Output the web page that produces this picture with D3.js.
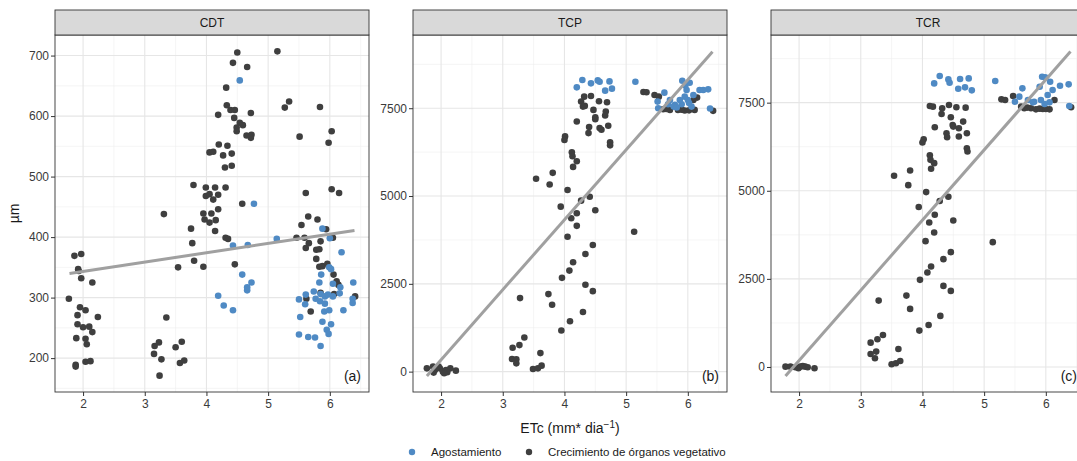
<!DOCTYPE html>
<html>
<head>
<meta charset="utf-8">
<script src="https://cdn.jsdelivr.net/npm/d3@7"></script>
<style>
  body { margin: 0; background: #fff; }
  text { font-family: "Liberation Sans", Arial, sans-serif; }
</style>
</head>
<body>
<script>
// facet scatter: CDT / TCP / TCR against ETc, with linear fit

var seriesNames = ["Agostamiento", "Crecimiento de órganos vegetativo"];
var panelNames = ["CDT", "TCP", "TCR"];
var panelTags = ["(a)", "(b)", "(c)"];
var xTicks = [2, 3, 4, 5, 6];
var cdtTicks = [200, 300, 400, 500, 600, 700];
var tcTicks = [0, 2500, 5000, 7500];

// [ETc, value] pairs
var cdtAgostamiento = [[4.54,659],[4.77,455],[4.19,303],[4.28,287],[4.43,279],[4.58,338],[4.66,317],[4.73,325],[4.66,312],[4.43,386],[4.67,387],[5.14,397],
  [5.88,414],[6.00,398],[6.19,375],[5.99,350],[6.02,347],[5.86,338],[6.05,323],[5.83,325],[6.17,317],[5.74,310],[5.85,306],[5.92,302],[5.97,305],[6.05,302],[6.16,307],
  [5.50,297],[5.61,305],[5.60,289],[5.77,298],[5.84,294],[5.92,290],[5.91,277],[5.99,279],[6.22,279],[6.37,298],[6.38,325],[6.37,291],[5.52,268],[5.88,260],[6.02,256],
  [5.95,247],[5.98,240],[5.50,239],[5.65,235],[5.76,234],[5.85,220]];
var cdtCrecimiento = [[4.50,705],[4.43,688],[4.66,681],[4.32,647],[5.15,707],[5.27,614],[5.34,624],[5.84,615],[4.33,618],[4.39,610],[4.46,610],[4.19,602],[4.45,597],[4.72,605],
  [4.54,589],[4.59,585],[4.49,581],[4.49,575],[4.65,568],[4.73,569],[4.72,564],[5.51,566],[6.03,575],[5.98,556],[4.20,553],[4.34,551],[4.05,540],[4.11,541],[4.27,535],
  [4.41,538],[4.30,515],[4.41,518],[3.79,486],[3.99,482],[4.14,482],[4.31,482],[3.99,468],[4.05,471],[4.19,470],[4.11,462],[5.61,473],[6.03,479],[6.15,473],[4.58,455],
  [4.19,446],[3.31,438],[3.95,439],[4.08,439],[3.97,429],[4.05,424],[4.15,428],[4.14,410],[3.75,414],[3.77,390],[4.31,399],[4.35,397],[3.80,361],[3.95,351],[3.54,350],
  [4.46,355],[5.65,434],[5.54,420],[5.80,429],[5.46,399],[5.59,399],[5.61,382],[5.66,390],[5.78,379],[5.83,380],[5.85,393],[5.94,413],[6.05,399],[5.78,364],[5.83,351],
  [5.88,352],[5.96,356],[6.06,338],[6.11,327],[6.14,321],[6.07,306],[5.62,298],[5.69,277],[5.85,308],[6.41,302],
  [1.86,369],[1.97,372],[1.92,347],[1.93,344],[1.97,332],[2.15,325],[1.77,298],[1.95,284],[2.04,279],[1.91,271],[1.91,256],[2.00,251],[2.10,252],[2.15,243],[2.24,268],
  [1.89,233],[2.04,232],[2.06,223],[1.88,189],[1.88,186],[2.04,194],[2.12,195],
  [3.35,267],[3.23,226],[3.16,220],[3.15,207],[3.27,198],[3.24,171],[3.50,218],[3.60,227],[3.57,192],[3.64,196]];

var tcpAgostamiento = [[4.20,8094],[4.29,8302],[4.43,8208],[4.54,8292],[4.57,8255],[4.73,8264],[4.66,8000],[4.77,8057],[5.15,8255],[5.91,8283],[6.03,8226],[6.19,8019],
  [6.33,8038],[6.36,7491],[5.62,7943],[5.51,7689],[5.52,7500],[5.68,7613],[5.79,7594],[5.90,7613],[5.98,8019],[6.00,7736],[6.06,7547],[5.87,7736],[5.95,7830],[6.09,7877],
  [6.25,8019],[5.71,7736],[5.77,7547],[5.96,8150],[6.02,7650],[5.82,7520]];
var tcpCrecimiento = [[3.54,5491],[3.81,5660],[3.76,5330],[4.05,5170],[4.27,4868],[4.41,4981],[4.01,6698],[4.00,6594],[4.12,6245],[4.13,6132],[4.20,5991],[4.14,5830],
  [4.20,7123],[4.27,7689],[4.30,7547],[4.33,7566],[4.32,7830],[4.43,7849],[4.56,7698],[4.69,7670],[4.47,7453],[4.50,7245],[4.50,7189],[4.67,7406],[4.66,7292],[4.40,6962],
  [4.39,6792],[4.57,6934],[4.60,6887],[4.71,7000],[4.74,6528],[4.74,6443],
  [5.28,7962],[5.33,7953],[5.46,7877],[5.53,7830],[5.60,7472],[5.71,7453],[5.84,7453],[5.95,7434],[6.11,7453],[6.15,7802],[6.41,7425],[6.09,7736],[5.65,7480],[5.90,7460],[6.02,7440],
  [3.94,4698],[4.50,4594],[4.11,4368],[4.20,4509],[4.20,4151],[4.05,3840],[5.13,3981],[4.46,3604],[4.34,3349],[4.14,3113],[4.08,2877],[3.96,2670],[4.34,2472],[4.46,2292],
  [3.28,2094],[3.74,2208],[3.80,1906],[4.30,1698],[4.09,1434],[3.95,1170],[3.35,972],[3.16,679],[3.27,755],[3.15,358],[3.22,349],[3.22,236],[3.61,528],[3.49,75],[3.57,94],[3.63,170],
  [1.77,94],[1.87,142],[1.90,47],[1.98,94],[2.03,0],[2.08,47],[2.15,94],[2.24,28],[1.96,142],[2.10,-19],[1.88,-28],[2.05,-47]];

var tcrAgostamiento = [[4.19,8047],[4.28,8255],[4.42,8160],[4.44,8066],[4.61,8170],[4.75,8189],[4.58,7896],[4.69,7934],[4.80,7849],[5.18,8113],[5.94,8236],[5.99,8217],
  [6.07,8094],[6.23,7981],[6.37,8019],[6.38,7406],[5.62,7906],[5.50,7528],[5.57,7670],[5.71,7575],[5.81,7528],[5.92,7575],[6.03,7717],[6.11,7858],[5.90,7953],[5.79,7509],
  [6.06,7509],[5.98,7462]];
var tcrCrecimiento = [[3.54,5425],[3.80,5575],[3.77,5160],[4.06,4962],[3.94,4538],[4.28,4708],[4.42,4830],[4.02,6462],[4.00,6368],[4.12,6009],[4.13,5877],[4.19,5783],
  [4.14,5623],[4.20,6802],[4.12,7406],[4.17,7387],[4.32,7340],[4.31,7179],[4.43,7434],[4.55,7368],[4.70,7358],[4.46,7085],[4.49,6868],[4.50,6821],[4.66,6962],[4.59,6774],
  [4.39,6632],[4.40,6519],[4.59,6538],[4.72,6632],[4.72,6208],[4.73,6113],
  [5.28,7594],[5.34,7575],[5.47,7689],[5.60,7387],[5.65,7340],[5.76,7340],[5.84,7311],[5.95,7321],[6.06,7311],[6.14,7575],[6.41,7368],[5.70,7360],[5.90,7330],[6.00,7320],
  [4.20,4318],[4.11,4100],[4.50,4157],[4.19,3816],[4.05,3570],[5.14,3542],[4.46,3258],[4.34,3059],[4.14,2850],[4.08,2680],[3.96,2472],[4.34,2301],[4.46,2159],[3.29,1884],
  [3.74,2026],[3.80,1648],[4.29,1449],[4.10,1193],[3.95,1032],[3.36,909],[3.16,691],[3.27,786],[3.16,369],[3.25,436],[3.23,246],[3.61,511],[3.50,76],[3.57,104],[3.64,170],
  [1.78,9],[1.86,9],[1.94,-9],[2.02,9],[2.10,9],[2.14,-9],[2.25,-38],[1.99,-38],[2.06,28]];

// linear fit end points
var cdtFit = [[1.78,340],[6.40,411]];
var tcpFit = [[1.77,-122],[6.40,9108]];
var tcrFit = [[1.78,-256],[6.40,8949]];

var colors = d3.scaleOrdinal().domain(seriesNames).range(["#4f8ac4", "#3f3f3f"]);

// layout
var width = 1077, height = 461;
var panelW = 314, panelTop = 35, panelBottom = 392, stripH = 25;
var panelLeft = [55, 413, 771];
var xDomain = [1.545, 6.635];
var yDomains = [[144, 734], [-580, 9585], [-710, 9420]];

var panels = panelNames.map(function(name, i) {
  return {
    name: name,
    tag: panelTags[i],
    left: panelLeft[i],
    yDomain: yDomains[i],
    yTicks: i === 0 ? cdtTicks : tcTicks,
    agost: [cdtAgostamiento, tcpAgostamiento, tcrAgostamiento][i],
    crec: [cdtCrecimiento, tcpCrecimiento, tcrCrecimiento][i],
    fit: [cdtFit, tcpFit, tcrFit][i]
  };
});

var svg = d3.select("body").append("svg")
  .attr("width", width)
  .attr("height", height);

function midpoints(ticks, domain) {
  var step = ticks[1] - ticks[0];
  var out = [];
  for (var v = ticks[0] - step / 2; v <= domain[1]; v += step) {
    if (v >= domain[0]) out.push(v);
  }
  return out;
}

panels.forEach(function(p) {
  var x = d3.scaleLinear().domain(xDomain).range([p.left, p.left + panelW]);
  var y = d3.scaleLinear().domain(p.yDomain).range([panelBottom, panelTop]);
  var g = svg.append("g").attr("class", "panel");

  g.append("rect")
    .attr("x", p.left).attr("y", panelTop)
    .attr("width", panelW).attr("height", panelBottom - panelTop)
    .attr("fill", "#fff");

  // minor grid
  g.selectAll(".vminor").data(midpoints(xTicks, xDomain)).enter().append("line")
    .attr("x1", x).attr("x2", x).attr("y1", panelTop).attr("y2", panelBottom)
    .attr("stroke", "#eeeeee").attr("stroke-width", 0.6);
  g.selectAll(".hminor").data(midpoints(p.yTicks, p.yDomain)).enter().append("line")
    .attr("x1", p.left).attr("x2", p.left + panelW).attr("y1", y).attr("y2", y)
    .attr("stroke", "#eeeeee").attr("stroke-width", 0.6);
  // major grid
  g.selectAll(".vmajor").data(xTicks).enter().append("line")
    .attr("x1", x).attr("x2", x).attr("y1", panelTop).attr("y2", panelBottom)
    .attr("stroke", "#e6e6e6").attr("stroke-width", 1.1);
  g.selectAll(".hmajor").data(p.yTicks).enter().append("line")
    .attr("x1", p.left).attr("x2", p.left + panelW).attr("y1", y).attr("y2", y)
    .attr("stroke", "#e6e6e6").attr("stroke-width", 1.1);

  // points
  [["Crecimiento de órganos vegetativo", p.crec], ["Agostamiento", p.agost]].forEach(function(s) {
    g.append("g").selectAll("circle").data(s[1]).enter().append("circle")
      .attr("cx", function(d) { return x(d[0]); })
      .attr("cy", function(d) { return y(d[1]); })
      .attr("r", 3.3)
      .attr("fill", colors(s[0]));
  });

  // fit line
  g.append("path")
    .datum(p.fit)
    .attr("d", d3.line().x(function(d) { return x(d[0]); }).y(function(d) { return y(d[1]); }))
    .attr("fill", "none")
    .attr("stroke", "#a0a0a0")
    .attr("stroke-width", 3);

  // border
  g.append("rect")
    .attr("x", p.left).attr("y", panelTop)
    .attr("width", panelW).attr("height", panelBottom - panelTop)
    .attr("fill", "none").attr("stroke", "#333").attr("stroke-width", 0.9);

  // strip
  g.append("rect")
    .attr("x", p.left).attr("y", panelTop - stripH)
    .attr("width", panelW).attr("height", stripH)
    .attr("fill", "#d9d9d9").attr("stroke", "#333").attr("stroke-width", 0.9);
  g.append("text")
    .attr("x", p.left + panelW / 2).attr("y", panelTop - stripH / 2)
    .attr("dy", "0.35em")
    .attr("text-anchor", "middle")
    .attr("font-size", 12)
    .attr("fill", "#1a1a1a")
    .text(p.name);

  // axes
  var xa = g.append("g")
    .attr("transform", "translate(0," + panelBottom + ")")
    .call(d3.axisBottom(x).tickValues(xTicks).tickSize(4).tickPadding(3).tickFormat(d3.format("d")));
  var ya = g.append("g")
    .attr("transform", "translate(" + p.left + ",0)")
    .call(d3.axisLeft(y).tickValues(p.yTicks).tickSize(4).tickPadding(2).tickFormat(d3.format("d")));
  [xa, ya].forEach(function(a) {
    a.select(".domain").remove();
    a.selectAll("line").attr("stroke", "#333");
    a.selectAll("text")
      .attr("fill", "#3a3a3a")
      .style("font-size", "12px")
      .style("font-family", "'Liberation Sans', Arial, sans-serif");
  });

  // tag
  g.append("text")
    .attr("x", p.left + panelW - 8).attr("y", panelBottom - 11)
    .attr("text-anchor", "end")
    .attr("font-size", 14)
    .attr("fill", "#1a1a1a")
    .text(p.tag);
});

// axis titles
var xt = svg.append("text")
  .attr("x", 570).attr("y", 433)
  .attr("text-anchor", "middle")
  .attr("font-size", 14)
  .attr("fill", "#1a1a1a");
xt.append("tspan").text("ETc (mm* dia");
xt.append("tspan").attr("dy", -5).attr("font-size", 10).text("−1");
xt.append("tspan").attr("dy", 5).text(")");

svg.append("text")
  .attr("transform", "translate(19," + ((panelTop + panelBottom) / 2) + ") rotate(-90)")
  .attr("text-anchor", "middle")
  .attr("font-size", 14)
  .attr("fill", "#1a1a1a")
  .text("µm");

// legend
var legendX = [412, 529];
var legend = svg.selectAll(".legend")
  .data(seriesNames)
  .enter().append("g")
  .attr("class", "legend")
  .attr("transform", function(d, i) { return "translate(" + legendX[i] + ",452)"; });

legend.append("circle")
  .attr("r", 3.2)
  .attr("fill", colors);

legend.append("text")
  .attr("x", 19)
  .attr("dy", "0.35em")
  .attr("font-size", 11.5)
  .attr("fill", "#1a1a1a")
  .text(function(d) { return d; });
</script>
</body>
</html>
